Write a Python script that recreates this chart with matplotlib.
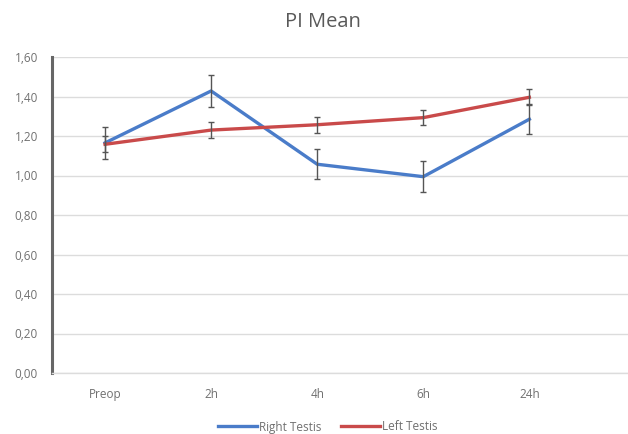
import matplotlib
matplotlib.use("Agg")
import matplotlib.pyplot as plt
import numpy as np

categories = ["Preop", "2h", "4h", "6h", "24h"]
right_mean = [1.165, 1.428, 1.057, 0.994, 1.285]
right_err = [0.08, 0.08, 0.077, 0.08, 0.076]
left_mean = [1.158, 1.230, 1.257, 1.293, 1.396]
left_err = [0.04, 0.04, 0.04, 0.038, 0.04]
yticks = [0.0, 0.2, 0.4, 0.6, 0.8, 1.0, 1.2, 1.4, 1.6]

plt.rcParams['font.family'] = ['Open Sans', 'DejaVu Sans']
txt = '#707070'

fig = plt.figure(figsize=(6.28, 4.34), dpi=100)
ax = fig.add_axes([52/628, 1-373/434, 1-52/628, (373-57)/434])

x = np.arange(len(categories))
ax.plot(x, right_mean, color='#4A7CC9', lw=2.4, label='Right Testis', zorder=3)
ax.plot(x, left_mean, color='#C94A4A', lw=2.4, label='Left Testis', zorder=3)
ax.errorbar(x, right_mean, yerr=right_err, fmt='none', ecolor='#555555', elinewidth=1, capsize=2.5, capthick=1, zorder=4)
ax.errorbar(x, left_mean, yerr=left_err, fmt='none', ecolor='#555555', elinewidth=1, capsize=2.5, capthick=1, zorder=4)

ax.set_ylim(0, 1.6)
ax.set_xlim(-0.5, 4.93)
ax.set_yticks(yticks)
ax.set_yticklabels([f"{v:.2f}".replace('.', ',') for v in yticks], color=txt, fontsize=8.5)
ax.set_xticks(x)
ax.set_xticklabels(categories, color=txt, fontsize=8.5)
ax.tick_params(axis='both', length=0)
ax.tick_params(axis='x', pad=11)
ax.tick_params(axis='y', pad=10)
ax.grid(axis='y', color='#dcdcdc', lw=1)
ax.set_axisbelow(True)
for s in ['top', 'right']:
    ax.spines[s].set_visible(False)
ax.spines['left'].set_color('#666666')
ax.spines['left'].set_linewidth(2.2)
ax.spines['bottom'].set_color('#dcdcdc')
ax.spines['bottom'].set_linewidth(1)

fig.text(0.515, 1-22/434, "PI Mean", ha='center', va='center', fontsize=14.5, color='#595959')

leg = fig.legend(loc='center', bbox_to_anchor=(0.522, 1-427/434), ncol=2, frameon=False,
                 fontsize=8.5, handlelength=3.3, handletextpad=0.2, columnspacing=1.6)
for t in leg.get_texts():
    t.set_color(txt)

fig.savefig("out.png", dpi=100)
